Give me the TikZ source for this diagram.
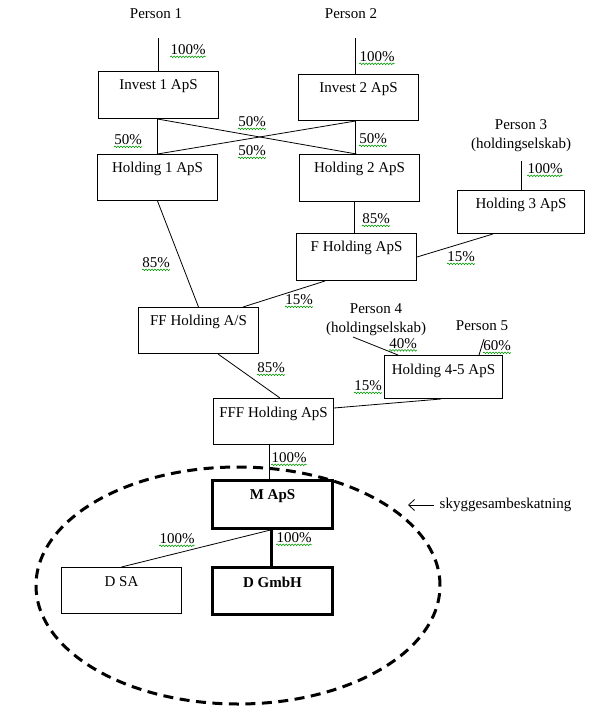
\documentclass[tikz,border=0pt]{standalone}
\usepackage{fontspec}
\setmainfont{Liberation Serif}
\usetikzlibrary{arrows.meta,decorations.pathmorphing}
\begin{document}
\begin{tikzpicture}[x=1pt,y=-1pt,
  every node/.style={font=\fontsize{15}{19}\selectfont},
  box/.style={draw,line width=1pt,inner xsep=0pt,inner ysep=0pt,anchor=north west,
    minimum width=120pt,text height=18pt,text depth=29pt},
  boldbox/.style={box,line width=3pt,font=\fontsize{15}{19}\selectfont\bfseries},
  lbl/.style={inner sep=0pt,align=center},
  pct/.style={inner sep=0pt},
  conn/.style={line width=0.8pt},
  thickconn/.style={line width=3pt},
  squig/.style={draw=green!60!black,line width=0.6pt,decorate,
    decoration={snake,amplitude=0.8pt,segment length=3pt}},
  shadow/.style={line width=3pt,dash pattern=on 10pt off 6.5pt}
]
\useasboundingbox (0,0) rectangle (594,718);

% boxes
\node[box] (inv1) at (98,71) {Invest 1 ApS};
\node[box,text depth=28pt] (inv2) at (298,74) {Invest 2 ApS};
\node[box,text depth=28pt] (hold1) at (97,154) {Holding 1 ApS};
\node[box] (hold2) at (299,154) {Holding 2 ApS};
\node[box,minimum width=127pt,text depth=25pt] (hold3) at (457,190) {Holding 3 ApS};
\node[box] (fh) at (296,233) {F Holding ApS};
\node[box,text depth=28pt] (ff) at (138,307) {FF Holding A/S};
\node[box,minimum width=118pt,text height=19pt,text depth=24pt] (h45) at (384,355) {Holding 4-5 ApS};
\node[box,text height=19pt,text depth=27pt] (fff) at (213,398) {FFF Holding ApS};
\node[boldbox,text height=19pt,text depth=29pt] (m) at (211,479) {M ApS};
\node[boldbox,text height=20pt,text depth=27pt] (dg) at (211,566) {D GmbH};
\node[box,text height=19pt,text depth=27pt] (dsa) at (61,567) {D SA};

% persons
\node[lbl] (per1) at (156,14) {Person 1};
\node[lbl] (per2) at (351,14) {Person 2};
\node[lbl] (per3) at (521,136) {Person 3\\(holdingselskab)};
\node[lbl] (per4) at (376,319.5) {Person 4\\(holdingselskab)};
\node[lbl] (per5) at (482,326) {Person 5};
\node[lbl] (sky) at (505.5,505) {skyggesambeskatning};

\coordinate (c1) at (158,38);
\coordinate (c2) at (355,38);
\coordinate (c3) at (521,161);
\coordinate (c4) at (353,337);
\coordinate (c5) at (484,339);
\coordinate (c6) at (408,505);

% connectors
\draw[conn] (c1) -- (c1 |- inv1.north);
\draw[conn] (c2) -- (c2 |- inv2.north);
\draw[conn] ([xshift=-1pt]inv1.south) -- ([xshift=-1pt]inv1.south |- hold1.north);
\draw[conn] ([xshift=-1pt]inv1.south) -- ([xshift=-3pt]hold2.north);
\draw[conn] ([xshift=-3pt]inv2.south) -- (hold1.north);
\draw[conn] ([xshift=-3pt]inv2.south) -- ([xshift=-3pt]inv2.south |- hold2.north);
\draw[conn] (c3) -- (c3 |- hold3.north);
\draw[conn] ([xshift=-5pt]hold2.south) -- ([xshift=-5pt]hold2.south |- fh.north);
\draw[conn] ([xshift=36pt]hold3.south west) -- (fh.east);
\draw[conn] (hold1.south) -- (ff.north);
\draw[conn] ([xshift=29pt]fh.south west) -- ([xshift=-16pt]ff.north east);
\draw[conn] (c4) -- ([xshift=14pt]h45.north west);
\draw[conn] (c5) -- ([xshift=-24pt]h45.north east);
\draw[conn] ([xshift=80pt]ff.south west) -- ([xshift=67pt]fff.north west);
\draw[conn] ([xshift=-62pt]h45.south east) -- ([yshift=-10pt]fff.north east);
\draw[conn] ([xshift=-4pt]fff.south) -- ([xshift=-4pt]fff.south |- m.north);
\draw[thickconn] ([xshift=-1pt]m.south) -- ([xshift=-1pt]m.south |- dg.north);
\draw[conn] ([xshift=-2pt]m.south) -- (dsa.north);

% shadow joint taxation ellipse
\draw[shadow] (238,585.5) ellipse [x radius=202pt, y radius=118.5pt];
\draw[line width=0.8pt,-{Straight Barb[length=6pt,width=11pt]}] ([xshift=-5pt]sky.west) -- (c6);

% percentages
\node[pct] (pa) at (188,50) {100\%};
\node[pct] (pb) at (377,57) {100\%};
\node[pct] (pc) at (128,140) {50\%};
\node[pct] (pd) at (252,122) {50\%};
\node[pct] (pe) at (252,151) {50\%};
\node[pct] (pf) at (373,139) {50\%};
\node[pct] (pg) at (545,169) {100\%};
\node[pct] (ph) at (376,219) {85\%};
\node[pct] (pi) at (461,257) {15\%};
\node[pct] (pj) at (156,263) {85\%};
\node[pct] (pk) at (299,300) {15\%};
\node[pct] (pl) at (403,343.5) {40\%};
\node[pct] (pm) at (497,346) {60\%};
\node[pct] (pn) at (368,386) {15\%};
\node[pct] (po) at (271,368) {85\%};
\node[pct] (pp) at (289,458) {100\%};
\node[pct] (pq) at (294,538) {100\%};
\node[pct] (pr) at (177,539) {100\%};
\foreach \n in {pa,pb,pc,pd,pe,pf,pg,ph,pi,pj,pk,pl,pm,pn,po,pp,pq,pr}
  \draw[squig] ([yshift=-1.5pt]\n.south west) -- ([yshift=-1.5pt]\n.south east);
\end{tikzpicture}
\end{document}
